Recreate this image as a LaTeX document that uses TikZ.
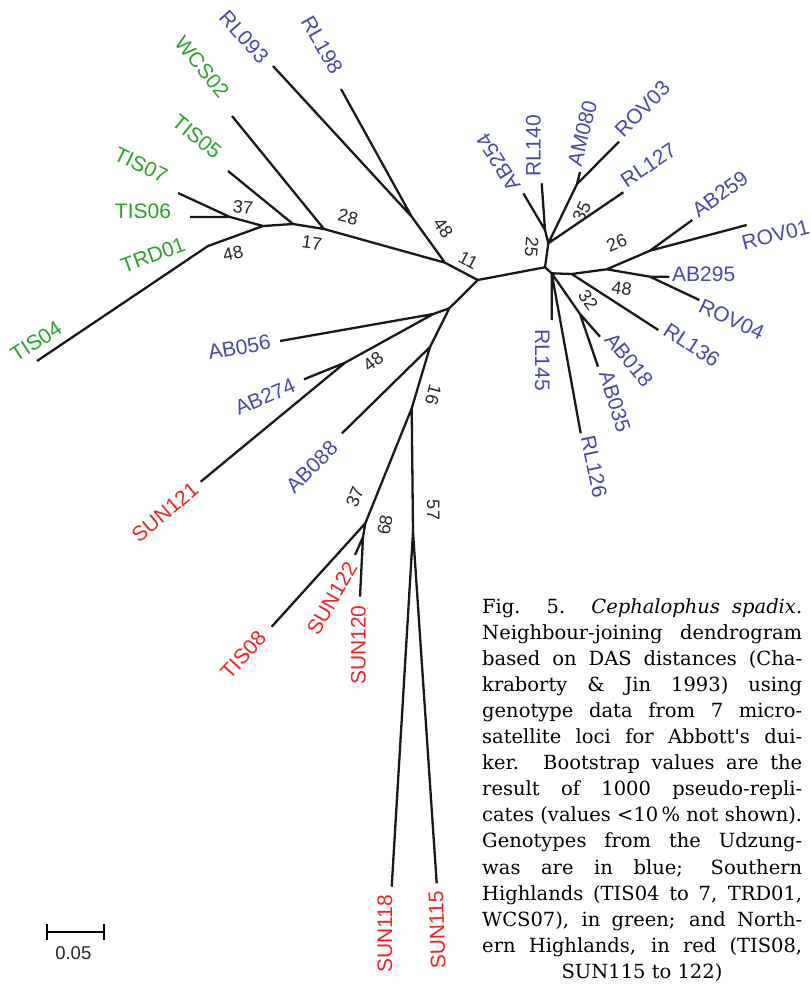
\documentclass[tikz,border=0pt]{standalone}
\usepackage{fontspec}
\newfontfamily\lblfont{Liberation Sans}
\newfontfamily\capfont{DejaVu Serif}
\definecolor{tgreen}{RGB}{44,160,44}
\definecolor{tblue}{RGB}{72,72,165}
\definecolor{tred}{RGB}{238,34,34}
\tikzset{
  branch/.style={draw=black!90, line width=2.3pt, line join=round},
  leaf/.style={inner sep=0pt, font=\lblfont\fontsize{21}{21}\selectfont},
  boot/.style={inner sep=0pt, text=black!85, font=\lblfont\fontsize{18}{18}\selectfont},
  capline/.style={inner sep=0pt, anchor=base west, font=\capfont\fontsize{19.5}{26}\selectfont}
}
\begin{document}
\begin{tikzpicture}[x=1pt,y=-1pt]
\path[use as bounding box] (0,0) rectangle (811,985);
% ---- internal nodes
\coordinate (G) at (477.7,280);
\coordinate (F) at (445,262.7);
\coordinate (H) at (411.7,216.7);
\coordinate (E) at (324,229);
\coordinate (D) at (293,224);
\coordinate (B) at (263,226);
\coordinate (A) at (230,217);
\coordinate (C) at (208,246);
\coordinate (I) at (545,267.3);
\coordinate (I2) at (551.7,273.3);
\coordinate (J) at (548.3,243.3);
\coordinate (K) at (545,230);
\coordinate (L) at (577,184);
\coordinate (M) at (571.7,274);
\coordinate (N) at (606.7,269.3);
\coordinate (O) at (650,250.7);
\coordinate (P) at (650,276.7);
\coordinate (Q) at (580,314);
\coordinate (R) at (449.3,308.3);
\coordinate (T) at (433.3,314);
\coordinate (S) at (345,362.7);
\coordinate (U) at (430,347);
\coordinate (V) at (411.7,408.3);
\coordinate (W) at (365.3,523.3);
\coordinate (Y) at (363,537);
\coordinate (X) at (413,532);
% ---- leaf tips
\coordinate (tRL093) at (273,66);
\coordinate (tRL198) at (341,89);
\coordinate (tWCS02) at (232,116);
\coordinate (tTIS05) at (228,171);
\coordinate (tTIS07) at (178,193);
\coordinate (tTIS06) at (190,217);
\coordinate (tTIS04) at (37,361);
\coordinate (tAB254) at (523.3,193.3);
\coordinate (tRL140) at (541.7,183.3);
\coordinate (tAM080) at (580,172);
\coordinate (tROV03) at (619,141.7);
\coordinate (tRL127) at (623.3,192.3);
\coordinate (tAB259) at (692.3,220);
\coordinate (tROV01) at (746.7,225);
\coordinate (tAB295) at (669.3,276.7);
\coordinate (tROV04) at (699.3,300);
\coordinate (tRL136) at (658.3,330);
\coordinate (tRL145) at (551.7,320);
\coordinate (tRL126) at (580.7,433.3);
\coordinate (tAB018) at (600,336.7);
\coordinate (tAB035) at (598,366.7);
\coordinate (tAB056) at (280,341);
\coordinate (tAB274) at (304,379.3);
\coordinate (tSUN121) at (200.7,481.7);
\coordinate (tAB088) at (342,433.3);
\coordinate (tTIS08) at (271.7,626.7);
\coordinate (tSUN122) at (355,555);
\coordinate (tSUN120) at (360,596.7);
\coordinate (tSUN118) at (391.7,886.7);
\coordinate (tSUN115) at (436.7,883.3);
% ---- branches
\draw[branch] (G)--(F) (F)--(H) (H)--(tRL093) (H)--(tRL198)
  (F)--(E) (E)--(tWCS02) (E)--(D) (D)--(tTIS05) (D)--(B) (B)--(A)
  (A)--(tTIS07) (A)--(tTIS06) (B)--(C) (C)--(tTIS04);
\draw[branch] (G)--(I) (I)--(J) (J)--(K) (K)--(tAB254) (K)--(tRL140)
  (J)--(L) (L)--(tAM080) (L)--(tROV03) (J)--(tRL127)
  (I)--(I2) (I2)--(M) (M)--(N) (N)--(O) (O)--(tAB259) (O)--(tROV01)
  (N)--(P) (P)--(tAB295) (P)--(tROV04) (M)--(tRL136)
  (I2)--(tRL145) (I2)--(tRL126) (I2)--(Q) (Q)--(tAB018) (Q)--(tAB035);
\draw[branch] (G)--(R) (R)--(T) (T)--(tAB056) (T)--(S) (S)--(tAB274) (S)--(tSUN121)
  (R)--(U) (U)--(tAB088) (U)--(V) (V)--(W) (W)--(tTIS08) (W)--(Y)
  (Y)--(tSUN122) (Y)--(tSUN120) (V)--(X) (X)--(tSUN118) (X)--(tSUN115);
% ---- leaf labels: green
\node[leaf,text=tgreen,rotate=-51] (lWCS02) at (202,67) {WCS02};
\node[leaf,text=tgreen,rotate=-39] (lTIS05) at (197,137) {TIS05};
\node[leaf,text=tgreen,rotate=-26] (lTIS07) at (141,165) {TIS07};
\node[leaf,text=tgreen] (lTIS06) at (143,211) {TIS06};
\node[leaf,text=tgreen,rotate=20] (lTRD01) at (153,255) {TRD01};
\node[leaf,text=tgreen,rotate=33] (lTIS04) at (36,341.5) {TIS04};
% blue
\node[leaf,text=tblue,rotate=-48] (lRL093) at (244,37) {RL093};
\node[leaf,text=tblue,rotate=-60] (lRL198) at (322,45) {RL198};
\node[leaf,text=tblue,rotate=122] (lAB254) at (498.3,162.3) {AB254};
\node[leaf,text=tblue,rotate=90] (lRL140) at (533.3,146) {RL140};
\node[leaf,text=tblue,rotate=76] (lAM080) at (582.3,133.3) {AM080};
\node[leaf,text=tblue,rotate=46] (lROV03) at (642.3,109) {ROV03};
\node[leaf,text=tblue,rotate=34] (lRL127) at (648.3,165) {RL127};
\node[leaf,text=tblue,rotate=36] (lAB259) at (720,194) {AB259};
\node[leaf,text=tblue,rotate=15] (lROV01) at (775.5,235) {ROV01};
\node[leaf,text=tblue] (lAB295) at (703.7,274) {AB295};
\node[leaf,text=tblue,rotate=-25] (lROV04) at (731.7,319) {ROV04};
\node[leaf,text=tblue,rotate=-33] (lRL136) at (691.7,345) {RL136};
\node[leaf,text=tblue,rotate=-51] (lAB018) at (629,360) {AB018};
\node[leaf,text=tblue,rotate=-73] (lAB035) at (615,401.7) {AB035};
\node[leaf,text=tblue,rotate=-90] (lRL145) at (542.3,360) {RL145};
\node[leaf,text=tblue,rotate=-78] (lRL126) at (594,466.7) {RL126};
\node[leaf,text=tblue,rotate=10] (lAB056) at (239.3,347.3) {AB056};
\node[leaf,text=tblue,rotate=23] (lAB274) at (265,396.7) {AB274};
\node[leaf,text=tblue,rotate=45] (lAB088) at (311.7,466.7) {AB088};
% red
\node[leaf,text=tred,rotate=40] (lSUN121) at (165,512) {SUN121};
\node[leaf,text=tred,rotate=48] (lTIS08) at (243.3,655) {TIS08};
\node[leaf,text=tred,rotate=60] (lSUN122) at (332,598.3) {SUN122};
\node[leaf,text=tred,rotate=90] (lSUN120) at (358.3,645) {SUN120};
\node[leaf,text=tred,rotate=90] (lSUN118) at (385,934) {SUN118};
\node[leaf,text=tred,rotate=92] (lSUN115) at (437,930) {SUN115};
% ---- bootstrap values
\node[boot,rotate=-6] (b37g) at (243,207) {37};
\node[boot,rotate=12] (b48g) at (233,253) {48};
\node[boot,rotate=-8] (b17) at (312,243) {17};
\node[boot,rotate=-13] (b28) at (348,217) {28};
\node[boot,rotate=-55] (b48r) at (443.3,228.3) {48};
\node[boot,rotate=-28] (b11) at (468.3,260) {11};
\node[boot,rotate=-95] (b25) at (531.7,246.7) {25};
\node[boot,rotate=64] (b35) at (581.7,211.7) {35};
\node[boot,rotate=22] (b26) at (616.7,242.7) {26};
\node[boot,rotate=-8] (b48p) at (621.7,288.3) {48};
\node[boot,rotate=-55] (b32) at (588.3,300) {32};
\node[boot,rotate=38] (b48s) at (373.3,361.7) {48};
\node[boot,rotate=-105] (b16) at (433.3,395) {16};
\node[boot,rotate=68] (b37r) at (355,496.7) {37};
\node[boot,rotate=80] (b68) at (385,525) {68};
\node[boot,rotate=-90] (b57) at (433.3,510) {57};
% ---- scale bar
\coordinate (s1) at (46.7,932.3);
\coordinate (s2) at (104.3,932.3);
\draw[line width=2.3pt] (s1)--(s2);
\draw[line width=2.3pt] ([yshift=8pt]s1)--([yshift=-8pt]s1);
\draw[line width=2.3pt] ([yshift=8pt]s2)--([yshift=-8pt]s2);
\node[boot,font=\lblfont\fontsize{18.5}{18.5}\selectfont] (sbar) at (73.3,953.3) {0.05};
% ---- caption
\node[capline] (c1) at (482,613.3) {\makebox[320pt][s]{Fig. 5. \textit{Cephalophus spadix}.}};
\node[capline] (c2) at (482,639.4) {\makebox[320pt][s]{Neighbour-joining dendrogram}};
\node[capline] (c3) at (482,665.4) {\makebox[320pt][s]{based on DAS distances (Cha-}};
\node[capline] (c4) at (482,691.5) {\makebox[320pt][s]{kraborty \& Jin 1993) using}};
\node[capline] (c5) at (482,717.6) {\makebox[320pt][s]{genotype data from 7 micro-}};
\node[capline] (c6) at (482,743.6) {\makebox[320pt][s]{satellite loci for Abbott's dui-}};
\node[capline] (c7) at (482,769.7) {\makebox[320pt][s]{ker. Bootstrap values are the}};
\node[capline] (c8) at (482,795.8) {\makebox[320pt][s]{result of 1000 pseudo-repli-}};
\node[capline] (c9) at (482,821.8) {\makebox[320pt][s]{cates (values <10\,\% not shown).}};
\node[capline] (c10) at (482,847.9) {\makebox[320pt][s]{Genotypes from the Udzung-}};
\node[capline] (c11) at (482,874.0) {\makebox[320pt][s]{was are in blue; Southern}};
\node[capline] (c12) at (482,900.0) {\makebox[320pt][s]{Highlands (TIS04 to 7, TRD01,}};
\node[capline] (c13) at (482,926.1) {\makebox[320pt][s]{WCS07), in green; and North-}};
\node[capline] (c14) at (482,952.2) {\makebox[320pt][s]{ern Highlands, in red (TIS08,}};
\node[capline,anchor=base] (c15) at (642,978.3) {SUN115 to 122)};
\end{tikzpicture}
\end{document}
